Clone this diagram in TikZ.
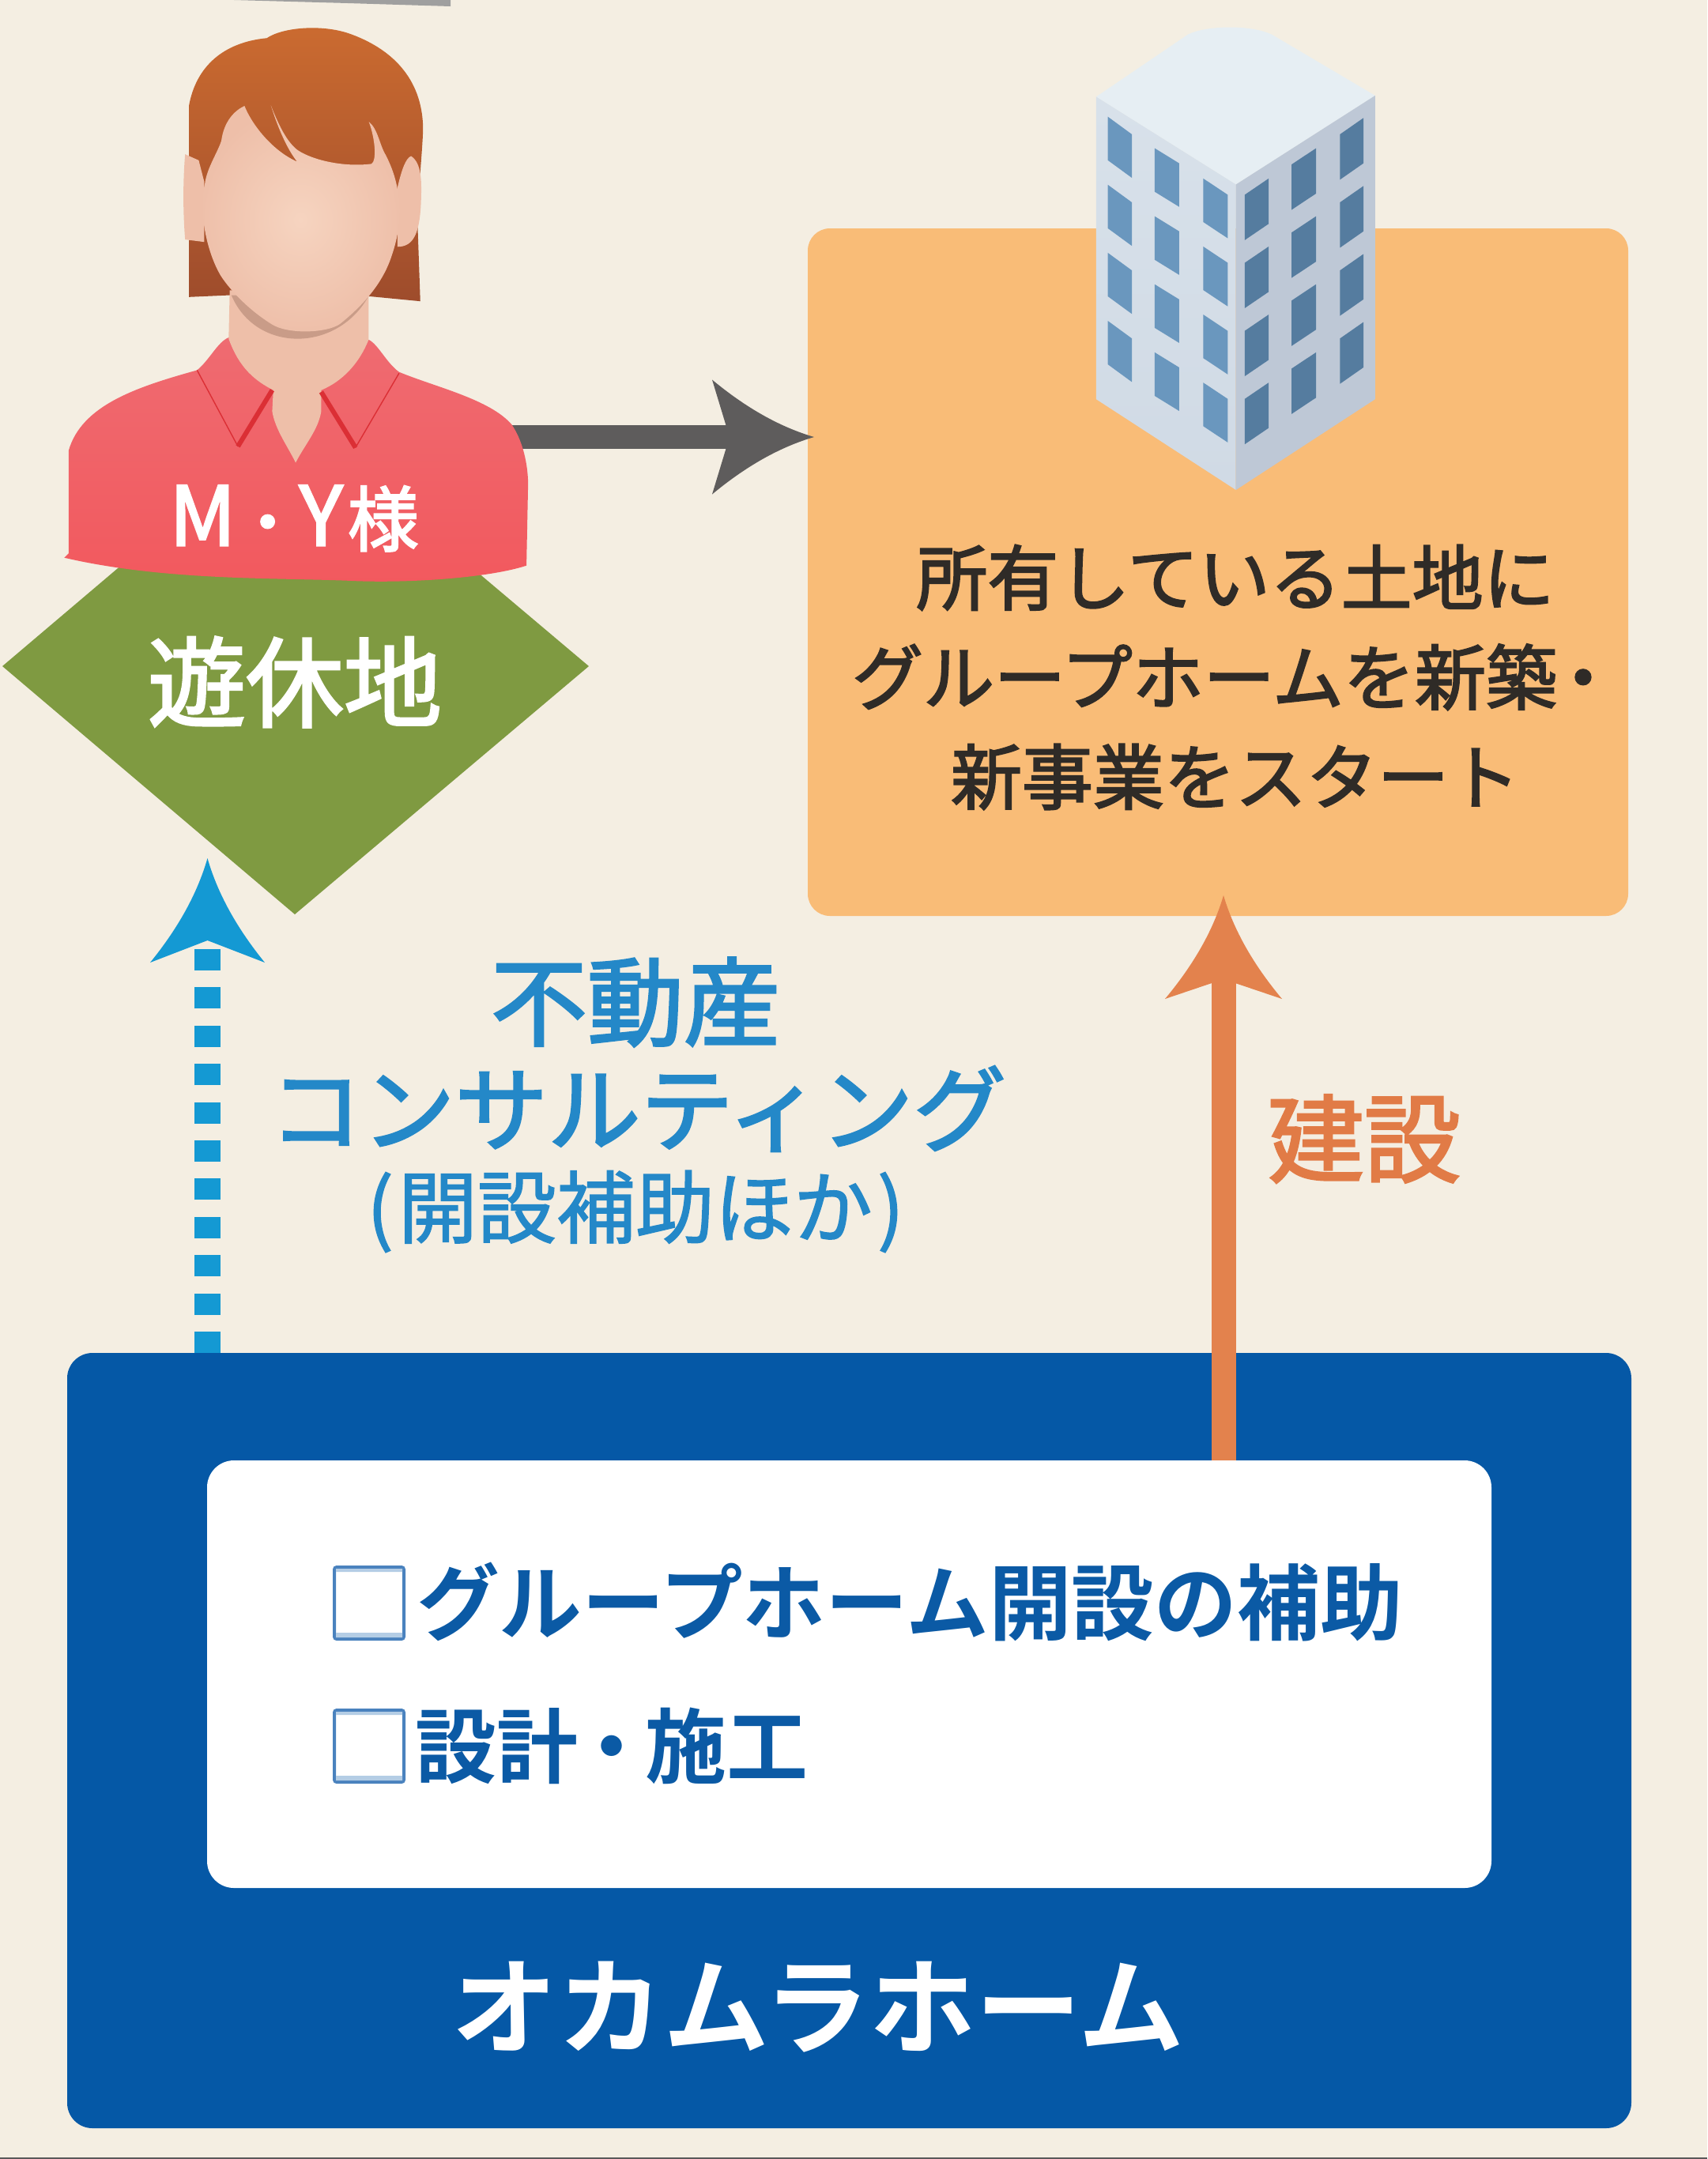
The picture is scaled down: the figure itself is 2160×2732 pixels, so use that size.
\documentclass[tikz,border=0pt]{standalone}
\usepackage{fontspec}
\usetikzlibrary{arrows.meta}
\newfontfamily\jpreg[FakeBold=1.5]{Noto Sans CJK JP}
\newfontfamily\jpmed[FakeBold=2.4]{Noto Sans CJK JP}
\newfontfamily\jpbold{Noto Sans CJK JP Bold}
\definecolor{bgc}{HTML}{F4EEE2}
\definecolor{orbox}{HTML}{F9BC77}
\definecolor{navy}{HTML}{0558A6}
\definecolor{navytx}{HTML}{0B5AA5}
\definecolor{grn}{HTML}{7F9A41}
\definecolor{skyc}{HTML}{1499D3}
\definecolor{skytx}{HTML}{2488C8}
\definecolor{orarr}{HTML}{E3824D}
\definecolor{ortx}{HTML}{E17B46}
\definecolor{grayc}{HTML}{5E5C5C}
\definecolor{inktx}{HTML}{2F2B27}
\definecolor{skinA}{HTML}{F6D4C0}
\definecolor{skinB}{HTML}{EEBFA9}
\definecolor{skinC}{HTML}{C99C88}
\definecolor{winL}{HTML}{6A97BE}
\definecolor{winR}{HTML}{557C9F}
\definecolor{hairA}{HTML}{CB6B30}
\definecolor{hairB}{HTML}{9E4C2C}
\definecolor{shirtA}{HTML}{EF6B71}
\definecolor{shirtB}{HTML}{F2595E}
\definecolor{collar}{HTML}{DB2F35}
\definecolor{roofc}{HTML}{E6EEF3}
\definecolor{wallLa}{HTML}{D8E1EA}
\definecolor{wallLb}{HTML}{D0DAE5}
\definecolor{wallR}{HTML}{BEC8D6}
\definecolor{chkline}{HTML}{4A82BE}
\definecolor{chkstrip}{HTML}{B4CDE5}
\pgfdeclarearrow{
  name=Ogee,
  defaults={length=60pt,width=70pt,inset=10pt},
  setup code={
    \pgfarrowssettipend{\pgfarrowlength}
    \pgfarrowssetlineend{\pgfarrowinset}
    \pgfarrowssetvisualbackend{0pt}
    \pgfarrowssetbackend{0pt}
    \pgfarrowshullpoint{\pgfarrowlength}{0pt}
    \pgfarrowsupperhullpoint{0pt}{.5\pgfarrowwidth}
    \pgfarrowssavethe\pgfarrowlength
    \pgfarrowssavethe\pgfarrowwidth
    \pgfarrowssavethe\pgfarrowinset
  },
  drawing code={
    \pgfpathmoveto{\pgfqpoint{\pgfarrowlength}{0pt}}
    \pgfpathquadraticcurveto{\pgfqpoint{.5\pgfarrowlength}{.13\pgfarrowwidth}}{\pgfqpoint{0pt}{.5\pgfarrowwidth}}
    \pgfpathlineto{\pgfqpoint{\pgfarrowinset}{0pt}}
    \pgfpathlineto{\pgfqpoint{0pt}{-.5\pgfarrowwidth}}
    \pgfpathquadraticcurveto{\pgfqpoint{.5\pgfarrowlength}{-.13\pgfarrowwidth}}{\pgfqpoint{\pgfarrowlength}{0pt}}
    \pgfpathclose
    \pgfusepathqfill
  },
  parameters={\the\pgfarrowlength,\the\pgfarrowwidth,\the\pgfarrowinset},
}
\tikzset{
  boxnode/.style={rectangle,inner sep=0pt,outer sep=0pt},
  txt/.style={inner sep=0pt,outer sep=0pt,align=center},
  chk/.style={rectangle,draw=chkline,line width=2pt,fill=white,minimum width=44pt,minimum height=45.5pt,inner sep=0pt,rounded corners=1.5pt},
  personunit/.style={x=0.3444pt,y=-0.3827pt},
}
\begin{document}
\begin{tikzpicture}[x=0.5pt,y=-0.5pt]
\useasboundingbox (0,0) rectangle (2160,2732);
\fill[bgc] (0,0) rectangle (2160,2732);
\fill[black!65] (0,2730) rectangle (2160,2732);
% top rule fragment
\fill[gray!75] (296,0) -- (570,0) -- (570,8) -- (440,4) -- cycle;
% orange box
\node[boxnode,fill=orbox,rounded corners=14pt,minimum width=519pt,minimum height=435pt] (goal) at (1541,724) {};
% gray arrow
\coordinate (grayS) at (640,553);
\coordinate (grayE) at (1030,553);
\draw[grayc,line width=15pt,-{Ogee[length=64.5pt,width=72.5pt,inset=11pt]}] (grayS) -- (grayE);
% building
\begin{scope}[shift={(1000,0)},x=0.3699pt,y=-0.3827pt]
  \fill[roofc] (523,160) -- (680,57) .. controls (710,42) and (790,40) .. (825,58) -- (1000,158) -- (762,305) -- cycle;
  \shade[top color=wallLa,bottom color=wallLb] (523,160) -- (762,305) -- (762,810) -- (523,660) -- cycle;
  \fill[wallR] (762,305) -- (1000,158) -- (1000,660) -- (762,810) -- cycle;
  \foreach \xa/\xb/\ya/\yb in {543/584/193/222,623/665/245/270,706/748/295/322}
    \foreach \r in {0,112.5,225,337.5}
      \fill[winL] (\xa,\ya+\r) -- (\xb,\yb+\r) -- (\xb,\yb+72+\r) -- (\xa,\ya+72+\r) -- cycle;
  \foreach \xa/\xb/\ya/\yb in {777/818/322/295,857/899/272/245,940/980/222/195}
    \foreach \r in {0,112.5,225,337.5}
      \fill[winR] (\xa,\ya+\r) -- (\xb,\yb+\r) -- (\xb,\yb+75+\r) -- (\xa,\ya+75+\r) -- cycle;
\end{scope}
\node[txt,text=inktx,font=\jpmed\fontsize{45}{63}\selectfont] (goaltxt) at (1563,857) {所有している土地に\\グループホームを新築\kern-6pt・\\新事業をスタート};
% diamond
\fill[grn] (3,843) -- (373,529) -- (745,843) -- (373,1157) -- cycle;
\node[txt,text=white,font=\jpmed\fontsize{62}{70}\selectfont] (land) at (373,863) {遊休地};
% person
\begin{scope}[personunit]
  \shade[top color=hairA,bottom color=hairB]
    (347,491) -- (347,175) .. controls (360,110) and (410,70) .. (490,63) .. controls (520,45) and (590,40) .. (640,55) .. controls (720,80) and (775,130) .. (777,210) .. controls (777,240) and (770,290) .. (767,370) -- (772,498) -- (680,490) -- (422,488) -- cycle;
  \shade[top color=shirtA,bottom color=shirtB]
    (118,922) -- (126,915) -- (126,745) .. controls (150,670) and (250,640) .. (362,612) .. controls (385,595) and (400,565) .. (420,558) -- (678,562) .. controls (695,570) and (710,600) .. (733,615) .. controls (800,640) and (900,660) .. (940,702) .. controls (965,735) and (970,780) .. (970,800) -- (967,935) .. controls (900,955) and (750,965) .. (640,960) .. controls (500,955) and (300,960) .. (118,922) -- cycle;
  \fill[skinB] (422,480) -- (420,560) .. controls (440,610) and (470,630) .. (502,645) -- (500,680) .. controls (505,710) and (530,740) .. (543,765) .. controls (560,735) and (585,710) .. (590,680) -- (590,645) .. controls (630,630) and (660,600) .. (677,562) -- (677,480) -- cycle;
  \draw[collar,line width=.7pt] (362,612) -- (437,738);
  \draw[collar,line width=3pt] (437,738) -- (500,645);
  \draw[collar,line width=3pt] (590,648) -- (653,740);
  \draw[collar,line width=.7pt] (653,740) -- (733,617);
  \fill[skinC] (425,488) .. controls (470,584) and (620,584) .. (678,488) -- cycle;
  \fill[skinB] (375,300) -- (365,265) -- (340,255) .. controls (336,300) and (336,350) .. (340,396) -- (375,400) -- cycle;
  \fill[skinB] (730,310) .. controls (738,280) and (745,262) .. (755,258) .. controls (775,270) and (775,300) .. (773,340) .. controls (770,385) and (760,408) .. (730,408) -- cycle;
\end{scope}
\begin{scope}[shift={(230,90)},x=0.16667pt,y=-0.16667pt]
  \shade[inner color=skinA,outer color=skinB]
    (88,425) .. controls (95,370) and (135,310) .. (150,265) .. controls (160,190) and (200,150) .. (238,132) .. controls (265,200) and (340,300) .. (438,344) .. controls (395,290) and (360,200) .. (338,130) .. controls (370,210) and (400,270) .. (440,300) .. controls (500,340) and (620,365) .. (720,352) .. controls (740,340) and (735,260) .. (710,192) .. controls (745,220) and (750,280) .. (775,320) .. controls (795,360) and (810,400) .. (818,445) .. controls (840,540) and (820,640) .. (790,720) .. controls (760,800) and (700,880) .. (600,960) .. controls (550,995) and (400,1000) .. (340,960) .. controls (260,910) and (190,840) .. (150,780) .. controls (100,700) and (60,540) .. (88,425) -- cycle;
\end{scope}
\node[txt,text=white,font=\jpmed] (name) at (372,656) {\fontsize{52}{56}\selectfont M{\fontsize{40}{56}\selectfont ・}Y\kern3pt{\fontsize{45}{56}\selectfont 様}};
% blue panel
\node[boxnode,fill=navy,rounded corners=16pt,minimum width=989.5pt,minimum height=490.5pt] (panel) at (1074.5,2202.5) {};
% connectors
\coordinate (consS) at (262.5,1712);
\coordinate (consE) at (262.5,1086);
\draw[skyc,line width=16.5pt,dash pattern=on 13.5pt off 10.7pt,-{Ogee[length=66pt,width=72.5pt,inset=14pt]}] (consS) -- (consE);
\coordinate (buildS) at (1548,1848);
\coordinate (buildE) at (1548,1133);
\draw[orarr,line width=15.5pt,-{Ogee[length=65.5pt,width=74pt,inset=12.5pt]}] (buildS) -- (buildE);
% white panel
\node[boxnode,fill=white,rounded corners=17pt,minimum width=812.5pt,minimum height=270.5pt] (list) at (1074.5,2118.5) {};
\node[chk] (chkA) at (467,2028.5) {};
\node[chk] (chkB) at (467,2209.5) {};
\fill[chkstrip] (425,1985) rectangle (509,1989) (425,2066) rectangle (509,2072) (425,2166) rectangle (509,2170) (425,2247) rectangle (509,2253);
\node[txt,anchor=west,text=navytx,font=\jpbold\fontsize{52.4}{56}\selectfont] (itemA) at (527,2027) {グループホーム開設の補助};
\node[txt,anchor=west,text=navytx,font=\jpbold\fontsize{51.5}{56}\selectfont] (itemB) at (525,2209) {設計\kern-4.5pt・\kern-4.5pt施工};
\node[txt,text=white,font=\jpbold\fontsize{67}{70}\selectfont] (company) at (1035,2540) {オカムラホーム};
% labels
\node[txt,text=skytx,font=\jpmed\fontsize{61}{66}\selectfont] (lblA) at (804,1268) {不動産};
\node[txt,text=skytx,font=\jpmed\fontsize{58.7}{66}\selectfont] (lblB) at (807,1403) {コンサルティング};
\node[txt,text=skytx,font=\jpreg\fontsize{50}{56}\selectfont] (lblC) at (804,1533) {(\kern3pt開設補助ほか\kern3pt)};
\node[txt,text=ortx,font=\jpmed\fontsize{61}{66}\selectfont] (lblD) at (1726,1441) {建設};
\end{tikzpicture}
\end{document}
